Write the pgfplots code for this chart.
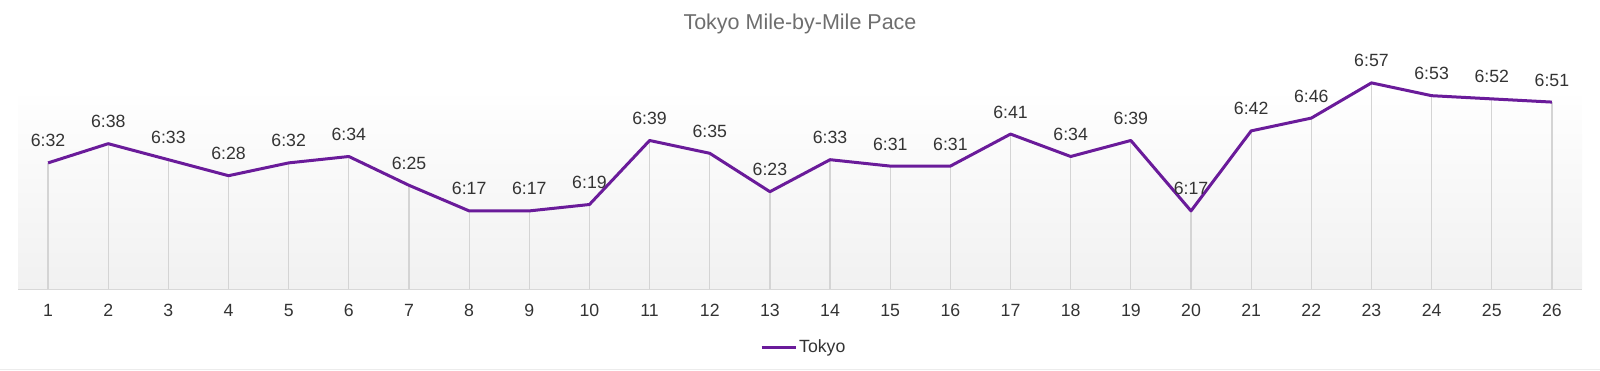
\documentclass[border=0pt]{standalone}
\usepackage{pgfplots}
\pgfplotsset{compat=1.18}
\usepackage{pgfplotstable}
\usepackage{fontspec}
\setmainfont{Liberation Sans}
\definecolor{lineP}{HTML}{6A1B9A}
\definecolor{txt}{HTML}{333333}
\definecolor{ttl}{HTML}{6E6E6E}
\definecolor{grd}{HTML}{D4D4D4}
\definecolor{bgb}{HTML}{F1F1F1}
\definecolor{bgt}{HTML}{FEFEFE}
\pgfplotstableread{
x y lab
1 392 6:32
2 398 6:38
3 393 6:33
4 388 6:28
5 392 6:32
6 394 6:34
7 385 6:25
8 377 6:17
9 377 6:17
10 379 6:19
11 399 6:39
12 395 6:35
13 383 6:23
14 393 6:33
15 391 6:31
16 391 6:31
17 401 6:41
18 394 6:34
19 399 6:39
20 377 6:17
21 402 6:42
22 406 6:46
23 417 6:57
24 413 6:53
25 412 6:52
26 411 6:51
}\pace
\begin{document}
\begin{tikzpicture}
\path[use as bounding box] (0,0) rectangle (1600bp,371bp);
\draw[color=gray!15, line width=1.5bp] (0,1.5bp) -- (1600bp,1.5bp);
\node[text=ttl, font=\fontsize{21.5bp}{24bp}\selectfont] at (800bp,347bp) {Tokyo Mile-by-Mile Pace};
\begin{axis}[
  at={(18bp,82bp)}, anchor=south west,
  scale only axis, width=1564bp, height=249bp,
  xmin=0.5, xmax=26.5, ymin=352.6, ymax=430.4,
  axis x line*=bottom, axis y line=none,
  axis line style={-, color=grd!90, line width=1.5bp},
  xtick={1,...,26}, major tick length=0pt,
  /pgf/number format/assume math mode=true,
  xticklabel style={anchor=north, inner sep=0pt, yshift=-15bp, text=txt, font=\fontsize{17.7bp}{20bp}\selectfont},
  legend style={at={(0.4744,-0.233)}, anchor=west, draw=none, fill=none, inner sep=0pt, font=\fontsize{17.7bp}{20bp}\selectfont, text=txt},
  legend image code/.code={\draw[#1, line width=3bp] (0,0) -- (34bp,0);},
  legend cell align=left,
  clip=false,
]
\fill[top color=bgt, bottom color=bgb] (axis cs:0.5,352.6) rectangle (axis cs:26.5,412.6);
\addplot[ycomb, color=grd, line width=1.2bp, no marks, forget plot] table[x=x,y=y] {\pace};
\addplot[color=lineP, line width=3bp, no marks, line join=round,
  nodes near coords, point meta=explicit symbolic,
  every node near coord/.append style={anchor=center, yshift=22bp, inner sep=0pt, text=txt, font=\fontsize{17.7bp}{20bp}\selectfont}]
  table[x=x,y=y,meta=lab] {\pace};
\addlegendentry{Tokyo}
\end{axis}
\end{tikzpicture}
\end{document}
